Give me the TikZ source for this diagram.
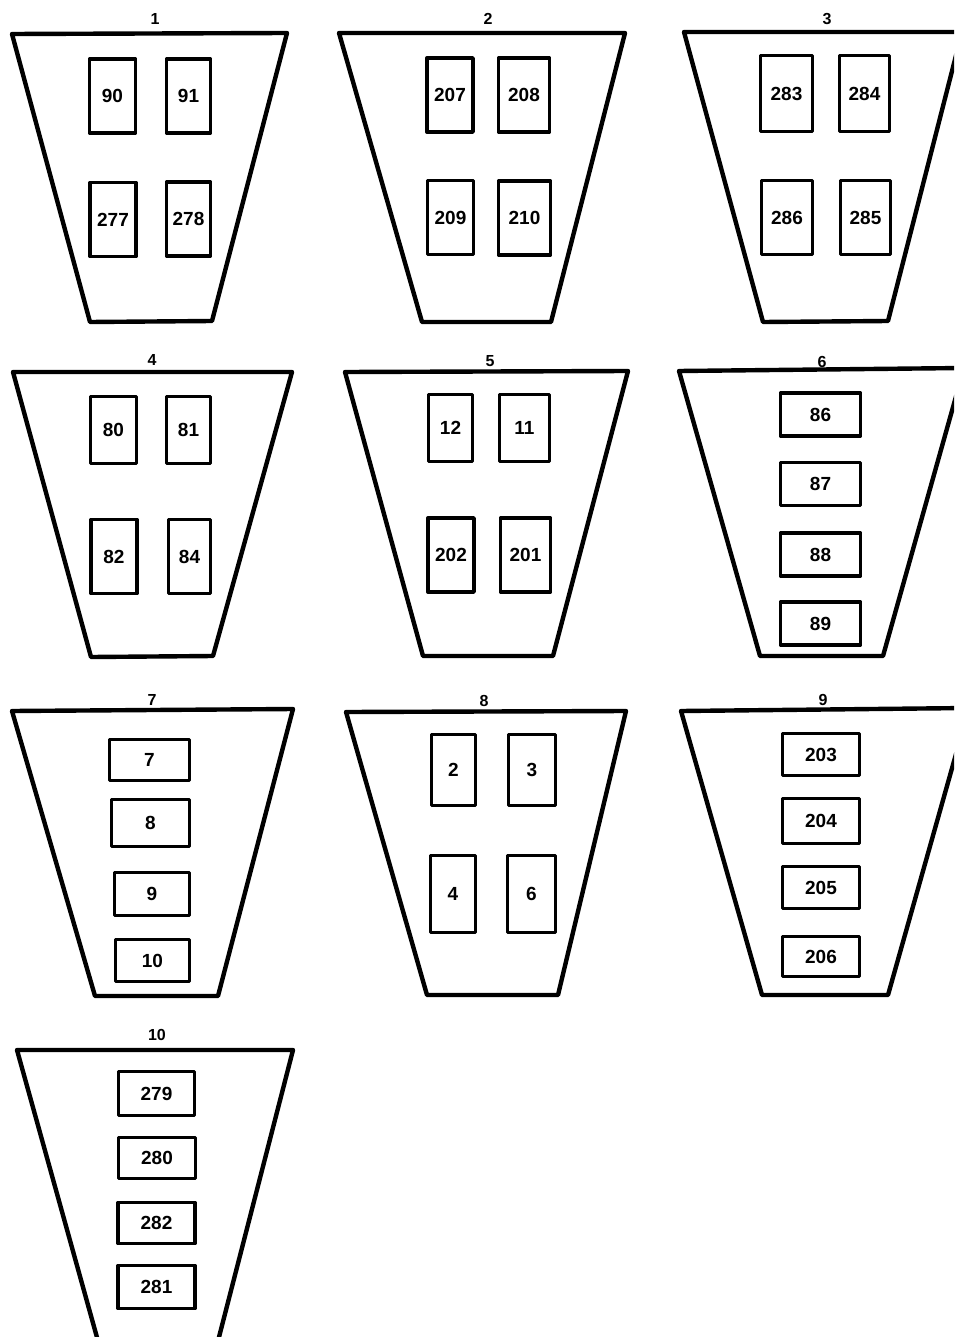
\documentclass[tikz,border=0pt]{standalone}
\usepackage{fontspec}
\setmainfont{Liberation Sans}
\usetikzlibrary{positioning}

\begin{document}
\begin{tikzpicture}[x=1pt, y=-1pt, font=\bfseries\fontsize{19}{21}\selectfont,
  trap/.style={line width=4.4pt,line join=round},
  cell/.style={draw,line width=3.4pt,line join=round,inner sep=0pt},
  tall/.style={cell,minimum width=46pt,minimum height=74pt},
  wide/.style={cell,minimum width=78pt,minimum height=43pt},
  ttl/.style={inner sep=0pt,font=\bfseries\fontsize{16}{18}\selectfont}]
\useasboundingbox (0,0) rectangle (954,1337);
\clip (0,0) rectangle (954,1337);
% row 1
\node[ttl] (t1) at (155,19) {1};
\draw[trap] (12,34) -- (287,33) -- (212,321) -- (90,322) -- cycle;
\node[tall] (b90) at (112.5,96) {90};
\node[tall,minimum width=44pt] (b91) at (188.5,96) {91};
\node[tall] (b277) at (113,219.5) {277};
\node[tall,minimum width=44pt] (b278) at (188.5,219) {278};
\node[ttl] (t2) at (488,19) {2};
\draw[trap] (339,33) -- (625,33) -- (551,322) -- (422,322) -- cycle;
\node[tall] (b207) at (450,95) {207};
\node[tall,minimum width=51pt] (b208) at (524,95) {208};
\node[tall] (b209) at (450.5,217.5) {209};
\node[tall,minimum width=52pt] (b210) at (524.5,218) {210};
\node[ttl] (t3) at (827,19) {3};
\draw[trap] (684,32) -- (962,32) -- (888,321) -- (763,322) -- cycle;
\node[tall,minimum width=52pt,minimum height=76pt] (b283) at (786.5,93.5) {283};
\node[tall,minimum width=50pt,minimum height=76pt] (b284) at (864.5,93.5) {284};
\node[tall,minimum width=51pt] (b286) at (787,217.5) {286};
\node[tall,minimum width=50pt] (b285) at (865.5,217.5) {285};
% row 2
\node[ttl] (t4) at (152,360) {4};
\draw[trap] (13,372) -- (292,372) -- (213,656) -- (91,657) -- cycle;
\node[tall,minimum height=67pt] (b80) at (113.5,430) {80};
\node[tall,minimum width=44pt,minimum height=67pt] (b81) at (188.5,430) {81};
\node[tall] (b82) at (114,556.5) {82};
\node[tall,minimum width=42pt] (b84) at (189.5,556.5) {84};
\node[ttl] (t5) at (490,361) {5};
\draw[trap] (345,372) -- (628,371) -- (553,656) -- (423,656) -- cycle;
\node[tall,minimum width=44pt,minimum height=67pt] (b12) at (450.5,428) {12};
\node[tall,minimum width=50pt,minimum height=67pt] (b11) at (524.5,428) {11};
\node[tall] (b202) at (451,555) {202};
\node[tall,minimum width=50pt] (b201) at (525.5,555) {201};
\node[ttl] (t6) at (822,362) {6};
\draw[trap] (679,371) -- (964,368) -- (883,656) -- (760,656) -- cycle;
\node[wide,minimum width=80pt] (b86) at (820.5,414.5) {86};
\node[wide,minimum width=80pt] (b87) at (820.5,484) {87};
\node[wide,minimum width=80pt] (b88) at (820.5,554.5) {88};
\node[wide,minimum width=80pt] (b89) at (820.5,623.5) {89};
% row 3
\node[ttl] (t7) at (152,700) {7};
\draw[trap] (12,711) -- (293,709) -- (218,996) -- (95,996) -- cycle;
\node[wide,minimum width=80pt,minimum height=41pt] (b7) at (149.5,760) {7};
\node[wide,minimum height=47pt] (b8) at (150.5,823) {8};
\node[wide,minimum width=75pt] (b9) at (152,894) {9};
\node[wide,minimum width=74pt,minimum height=42pt] (b10) at (152.5,960.5) {10};
\node[ttl] (t8) at (484,701) {8};
\draw[trap] (346,712) -- (626,711) -- (558,995) -- (427,995) -- cycle;
\node[tall,minimum width=44pt,minimum height=71pt] (b2) at (453.5,770) {2};
\node[tall,minimum width=47pt,minimum height=71pt] (b3) at (532,770) {3};
\node[tall,minimum width=45pt,minimum height=77pt] (b4) at (453,894) {4};
\node[tall,minimum width=48pt,minimum height=77pt] (b6) at (531.5,894) {6};
\node[ttl] (t9) at (823,700) {9};
\draw[trap] (681,711) -- (969,708) -- (888,995) -- (762,995) -- cycle;
\node[wide,minimum width=77pt,minimum height=42pt] (b203) at (821,754.5) {203};
\node[wide,minimum width=77pt,minimum height=45pt] (b204) at (821,821) {204};
\node[wide,minimum width=77pt,minimum height=42pt] (b205) at (821,887.5) {205};
\node[wide,minimum width=77pt,minimum height=40pt] (b206) at (821,956.5) {206};
% row 4
\node[ttl] (t10) at (157,1035) {10};
\draw[trap] (17,1050) -- (293,1050) -- (218,1341) -- (98,1341) -- cycle;
\node[wide,minimum width=76pt,minimum height=44pt] (b279) at (156.5,1093.5) {279};
\node[wide,minimum width=77pt,minimum height=41pt] (b280) at (157,1158) {280};
\node[wide,minimum width=77pt,minimum height=41pt] (b282) at (156.5,1223) {282};
\node[wide,minimum width=77pt] (b281) at (156.5,1287) {281};
\end{tikzpicture}
\end{document}
